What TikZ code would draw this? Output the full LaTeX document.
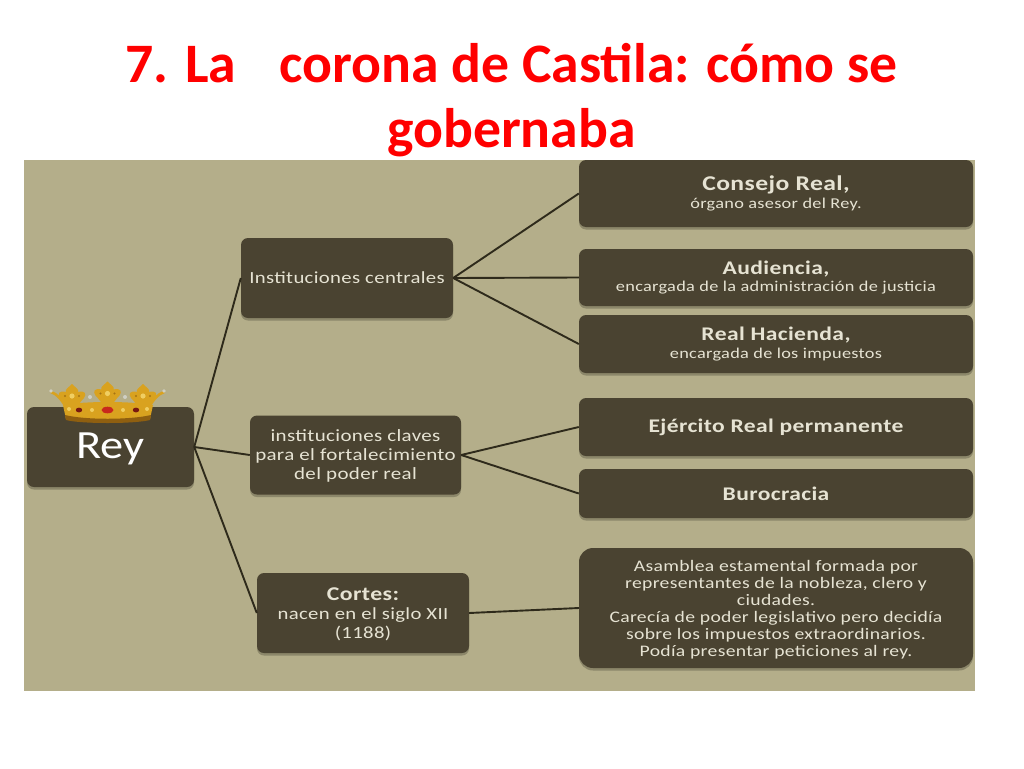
\documentclass[tikz,border=0pt]{standalone}
\usepackage{fontspec}
\setmainfont{Carlito}
\newfontfamily\boxfont[FakeStretch=1.22,LetterSpace=2]{Carlito}
\newfontfamily\reyfont[FakeStretch=1.16]{Carlito}
\definecolor{panel}{HTML}{B4AE8A}
\definecolor{boxdark}{HTML}{4A4331}
\definecolor{boxshadow}{HTML}{8C876A}
\definecolor{boxtext}{HTML}{E6E3D3}
\definecolor{link}{HTML}{2E2A1B}
\definecolor{titlered}{HTML}{FF0000}
\definecolor{gold}{HTML}{D9A21F}
\definecolor{golddark}{HTML}{8F5F10}
\definecolor{goldlight}{HTML}{F0CE62}
\definecolor{jewel}{HTML}{C8281C}
\definecolor{pearl}{HTML}{CFCFC4}
\newcommand{\fleuron}[2]{%
  \fill[gold] (#1,#2) .. controls (#1-4,#2+4) and (#1-7,#2+5) .. (#1-6,#2+8)
   .. controls (#1-13,#2+6) and (#1-15,#2+10) .. (#1-12,#2+14)
   .. controls (#1-9,#2+17) and (#1-7,#2+20) .. (#1-4,#2+24)
   -- (#1+4,#2+24) .. controls (#1+7,#2+20) and (#1+9,#2+17) .. (#1+12,#2+14)
   .. controls (#1+15,#2+10) and (#1+13,#2+6) .. (#1+6,#2+8)
   .. controls (#1+7,#2+5) and (#1+4,#2+4) .. (#1,#2) -- cycle;
  \fill[goldlight] (#1,#2+12) circle [radius=2.6pt];
  \fill[golddark!70!gold] (#1-7,#2+12) circle [radius=1.2pt] (#1+7,#2+12) circle [radius=1.2pt];
}
\tikzset{
  box/.style={fill=boxdark, rounded corners=7pt, inner sep=0pt, align=center, text=boxtext,
    font=\boxfont\fontsize{17}{19}\selectfont,
    preaction={fill=boxshadow, transform canvas={yshift=-2.5pt}}},
  head/.style={font=\boxfont\bfseries\fontsize{19.3}{21}\selectfont},
  connector/.style={draw=link, line width=1.9pt},
  titletext/.style={text=titlered, inner sep=0pt, font=\bfseries\fontsize{55.7}{60}\selectfont}
}
\begin{document}
\begin{tikzpicture}[x=1pt,y=-1pt]
\useasboundingbox (0,0) rectangle (1024,768);
\fill[white] (0,0) rectangle (1024,768);
\fill[panel] (24,160) rectangle (975,691);
\node[titletext] (t1) at (511.5,63) {7. La\hspace{0.55em} corona de Castila: cómo se};
\node[titletext] (t2) at (511.5,133) {gobernaba};
% boxes
\node[box, minimum width=167pt, minimum height=80pt, font=\reyfont\fontsize{40}{42}\selectfont, text=white, text height=28pt, text depth=6pt] (rey) at (110.5,447) {Rey};
\node[box, minimum width=212pt, minimum height=80pt, text height=12pt, text depth=2pt] (inst) at (347,278) {Instituciones centrales};
\node[box, minimum width=211pt, minimum height=79pt, font=\boxfont\fontsize{17.2}{19}\selectfont] (claves) at (355.5,455) {\rule{0pt}{14pt}instituciones claves\\para el fortalecimiento\\del poder real};
\node[box, minimum width=212pt, minimum height=80pt, font=\boxfont\fontsize{17}{19}\selectfont] (cortes) at (363,613) {\rule{0pt}{15pt}{\bfseries\fontsize{19.5}{21}\selectfont Cortes:}\\nacen en el siglo XII\\(1188)};
\node[box, minimum width=394pt, minimum height=67pt, font=\boxfont\fontsize{15}{16}\selectfont] (consejo) at (776,193.5) {{\bfseries\fontsize{21}{22}\selectfont Consejo Real,}\\[1.5pt]órgano asesor del Rey.};
\node[box, minimum width=394pt, minimum height=57pt, font=\boxfont\fontsize{15}{16}\selectfont] (audiencia) at (776,277.5) {{\bfseries\fontsize{19.3}{21}\selectfont Audiencia,}\\[1.5pt]encargada de la administración de justicia};
\node[box, minimum width=394pt, minimum height=58pt, font=\boxfont\fontsize{15}{16}\selectfont] (hacienda) at (776,344) {{\bfseries\fontsize{19.3}{21}\selectfont Real Hacienda,}\\[1.5pt]encargada de los impuestos};
\node[box, head, minimum width=394pt, minimum height=58pt] (ejercito) at (776,427) {Ejército Real permanente};
\node[box, head, minimum width=394pt, minimum height=49pt] (buro) at (776,493.5) {Burocracia};
\node[box, minimum width=394pt, minimum height=120pt, rounded corners=14pt, font=\boxfont\fontsize{16.1}{17}\selectfont] (asamblea) at (776,608) {\rule{0pt}{14pt}Asamblea estamental formada por\\representantes de la nobleza, clero y\\ciudades.\\Carecía de poder legislativo pero decidía\\sobre los impuestos extraordinarios.\\Podía presentar peticiones al rey.};
% connectors
\draw[connector] (rey.east) -- (inst.west);
\draw[connector] (rey.east) -- (claves.west);
\draw[connector] (rey.east) -- (cortes.west);
\draw[connector] (inst.east) -- (consejo.west);
\draw[connector] (inst.east) -- (audiencia.west);
\draw[connector] (inst.east) -- (hacienda.west);
\draw[connector] (claves.east) -- (ejercito.west);
\draw[connector] (claves.east) -- (buro.west);
\draw[connector] (cortes.east) -- (asamblea.west);
% crown: side stems
\draw[gold, line width=2.6pt, line cap=round] (51,392) .. controls (57,394) and (61,399) .. (66,407);
\draw[gold, line width=2.6pt, line cap=round] (164,392) .. controls (158,394) and (154,399) .. (149,407);
\fleuron{72}{384}
\fleuron{143}{384}
\fleuron{107.5}{381.5}
\fill[pearl] (51,391) circle [radius=1.8pt] (164,391) circle [radius=1.8pt] (90,397) circle [radius=2pt] (125,397) circle [radius=2pt];
% crown: band
\fill[gold] (63,405) .. controls (85,401) and (130,401) .. (153,405) -- (150,419)
  .. controls (135,423.5) and (80,423.5) .. (66,419) -- cycle;
\fill[golddark] (65,415) .. controls (85,420) and (130,420) .. (151,415) -- (150,420)
  .. controls (135,424) and (80,424) .. (66,420) -- cycle;
\fill[jewel] (107.5,410) ellipse [x radius=6pt, y radius=3.3pt];
\fill[jewel!60!black] (79,410) ellipse [x radius=3.2pt, y radius=2.4pt];
\fill[jewel!60!black] (136,410) ellipse [x radius=3.2pt, y radius=2.4pt];
\foreach \cx/\cy in {92/410,123/410,69/409,147/409}{\fill[goldlight] (\cx,\cy) circle [radius=2pt];}
\end{tikzpicture}
\end{document}
